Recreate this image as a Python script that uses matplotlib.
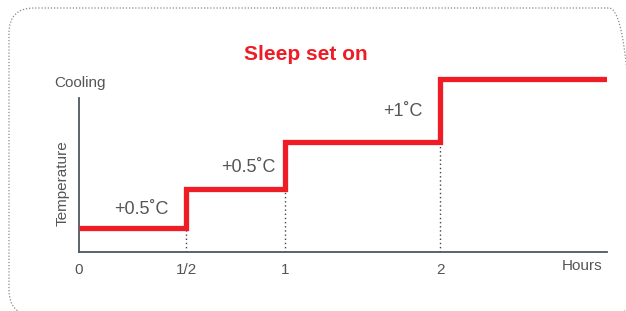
import numpy as np
import matplotlib
matplotlib.use("Agg")
import matplotlib.pyplot as plt
from matplotlib.patches import FancyBboxPatch
from matplotlib.transforms import IdentityTransform

# ---- data ----
title = "Sleep set on"
tick_hours = [0, 0.5, 1, 2]
tick_labels = ["0", "1/2", "1", "2"]
end_hour = 3.077
step_hours = [0, 0.5, 1, 2]          # times at which temperature steps up
step_levels = [24, 63, 110, 173]     # drawn level of each plateau (arbitrary units)
step_labels = ["+0.5˚C", "+0.5˚C", "+1˚C"]
x_label = "Hours"
y_label = "Temperature"
y_top_label = "Cooling"

RED = "#EE1C25"
GRAY = "#555555"
SPINE = "#4d5861"

plt.rcParams['font.family'] = ['Liberation Sans', 'DejaVu Sans']

fig = plt.figure(figsize=(6.26, 3.11), dpi=100)
W, H = 626, 311

# rounded dotted border in pixel coords (origin bottom-left)
border = FancyBboxPatch((9, H - 315), 625, 307, boxstyle="round,pad=0,rounding_size=25",
                        transform=IdentityTransform(),
                        fill=False, edgecolor="#8a8a8a", linestyle=(0, (1, 1.5)), linewidth=0.9,
                        clip_on=False)
fig.patches.append(border)

# axes placement
L, R, B, T = 79, 607, 252, 70
ax = fig.add_axes([L / W, (H - B) / H, (R - L) / W, (B - T) / H])

# piecewise x-scale (uneven spacing in the reference)
knots_h = [0, 0.5, 1, 2, 4]
knots_p = [0, 107, 206, 361, 671]
fwd = lambda x: np.interp(x, knots_h, knots_p)
inv = lambda p: np.interp(p, knots_p, knots_h)
ax.set_xscale('function', functions=(fwd, inv))

xs = step_hours + [end_hour]
ys = step_levels + [step_levels[-1]]
ax.step(xs, ys, where='post', color=RED, linewidth=3.8, solid_joinstyle='miter',
        solid_capstyle='butt', zorder=3)

for i in range(1, len(step_hours)):
    ax.plot([step_hours[i], step_hours[i]], [0, step_levels[i - 1]], color="#444444",
            linestyle=(0, (1, 2)), linewidth=1.0, zorder=2)

offsets = [(-45, 19), (-37, 22), (-37, 31)]
for i, lab in enumerate(step_labels):
    ax.annotate(lab, (step_hours[i + 1], step_levels[i]), xytext=offsets[i],
                textcoords='offset pixels', ha='center', va='center',
                fontsize=13, color=GRAY)

ax.set_xlim(0, end_hour)
ax.set_ylim(0, 182)
for s in ['top', 'right']:
    ax.spines[s].set_visible(False)
for s in ['left', 'bottom']:
    ax.spines[s].set_color(SPINE)
    ax.spines[s].set_linewidth(1.3)
ax.spines['left'].set_bounds(0, 154)
ax.set_yticks([])
ax.set_xticks(tick_hours)
ax.set_xticklabels(tick_labels, fontsize=11, color=GRAY)
ax.tick_params(axis='x', length=0, pad=8)
ax.patch.set_alpha(0)

fig.text(306 / W, 1 - 55 / H, title, ha='center', va='center', fontsize=15,
         fontweight='bold', color=RED)
fig.text(80 / W, 1 - 83 / H, y_top_label, ha='center', va='center', fontsize=11, color=GRAY)
fig.text(63 / W, 1 - 183 / H, y_label, ha='center', va='center', fontsize=11,
         color=GRAY, rotation=90)
fig.text(602 / W, 1 - 266 / H, x_label, ha='right', va='center', fontsize=11, color=GRAY)

fig.savefig("out.png", dpi=100)
